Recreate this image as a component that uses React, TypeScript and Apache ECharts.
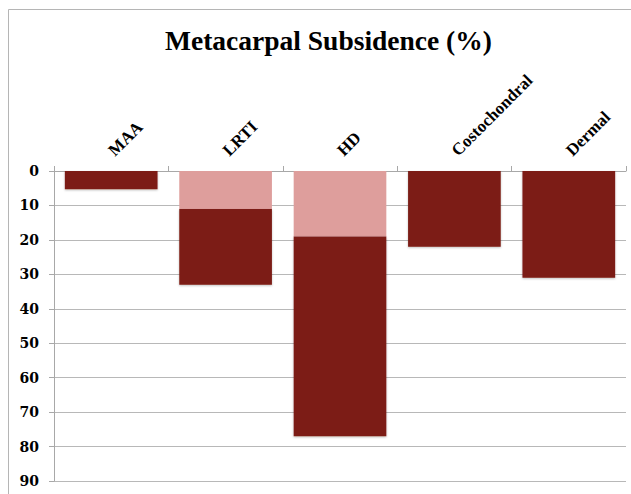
import React, { useEffect, useRef } from "react";
import * as echarts from "echarts";

const categories = ["MAA", "LRTI", "HD", "Costochondral", "Dermal"];
const lightValues = [0, 11, 19, 0, 0];
const darkValues = [5.3, 22, 58, 22, 31];
const titleText = "Metacarpal Subsidence (%)";

const SERIF = "'Liberation Serif', 'DejaVu Serif', serif";
const WIDE_SERIF = "'DejaVu Serif', 'Liberation Serif', serif";

export default function App() {
  const ref = useRef<HTMLDivElement>(null);
  useEffect(() => {
    if (!ref.current) return;
    const chart = echarts.init(ref.current, undefined, { renderer: "svg" });
    chart.setOption({
      animation: false,
      backgroundColor: "#ffffff",
      title: {
        text: titleText,
        left: 160,
        top: 21,
        textStyle: { fontFamily: SERIF, fontWeight: "bold", fontSize: 27.5, color: "#000" },
      },
      graphic: [
        {
          type: "rect",
          shape: { x: 8.5, y: 9.5, width: 700, height: 600 },
          style: { fill: "none", stroke: "#b5b5b5", lineWidth: 1 },
          silent: true,
          z: -10,
        },
      ],
      grid: { left: 54, right: 5, top: 171, bottom: 13 },
      xAxis: {
        type: "category",
        position: "top",
        data: categories,
        boundaryGap: true,
        axisLine: { show: true, lineStyle: { color: "#a8a8a8", width: 1 } },
        axisTick: { show: true, length: 5, lineStyle: { color: "#a8a8a8" } },
        axisLabel: {
          show: true,
          rotate: 45,
          margin: 18,
          interval: 0,
          fontFamily: SERIF,
          fontWeight: "bold",
          fontSize: 17,
          color: "#000",
        },
        splitLine: { show: false },
      },
      yAxis: {
        type: "value",
        inverse: true,
        min: 0,
        max: 90,
        interval: 10,
        axisLine: { show: true, lineStyle: { color: "#a8a8a8", width: 1 } },
        axisTick: { show: true, length: 5, lineStyle: { color: "#a8a8a8" } },
        axisLabel: {
          margin: 15,
          fontFamily: WIDE_SERIF,
          fontWeight: "bold",
          fontSize: 14,
          color: "#000",
        },
        splitLine: { show: true, lineStyle: { color: "#b8b8b8", width: 1 } },
      },
      series: [
        {
          type: "bar",
          name: "Light",
          stack: "total",
          data: lightValues,
          barWidth: "81%",
          itemStyle: { color: "#de9e9c" },
        },
        {
          type: "bar",
          name: "Dark",
          stack: "total",
          data: darkValues,
          barWidth: "81%",
          itemStyle: {
            color: "#7c1b15",
            shadowColor: "rgba(0,0,0,0.25)",
            shadowBlur: 2,
            shadowOffsetY: 1,
          },
        },
      ],
    });
    return () => chart.dispose();
  }, []);
  return (
    <div
      ref={ref}
      style={{ position: "fixed", left: 0, top: 0, width: 631, height: 494 }}
    />
  );
}
